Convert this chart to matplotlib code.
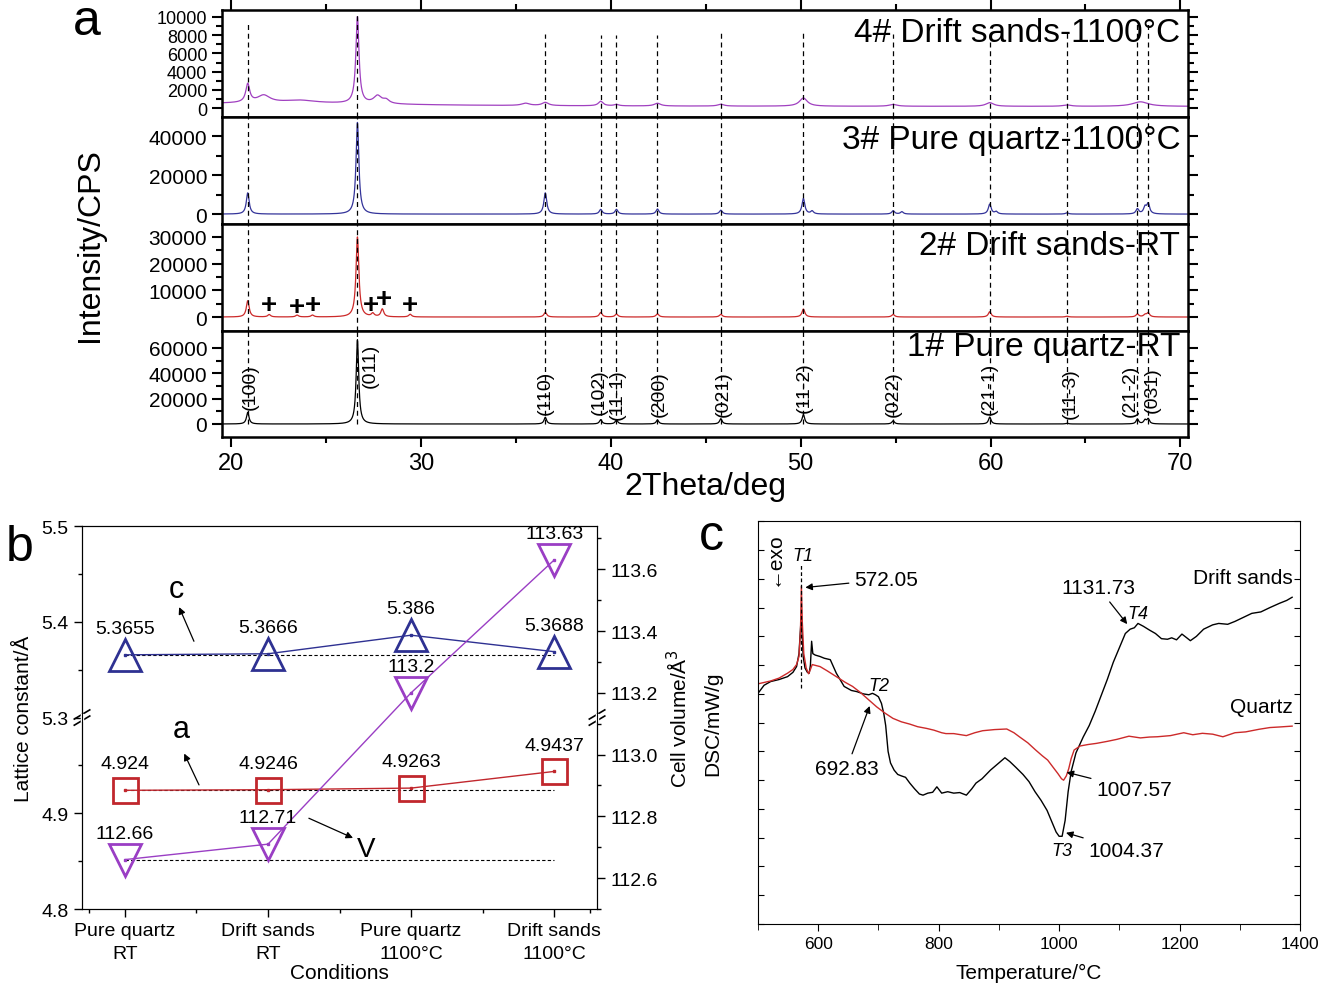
import numpy as np
import matplotlib.pyplot as plt
from matplotlib.ticker import MultipleLocator, FixedLocator

plt.rcParams['font.family'] = ['Liberation Sans', 'DejaVu Sans']

# ---------------- panel a: XRD patterns ----------------
ref_pos = [20.86, 26.64, 36.54, 39.46, 40.29, 42.45, 45.79, 50.14, 54.87, 59.96, 64.03, 67.74, 68.31]
hkl_labels = ['(100)', '(011)', '(110)', '(102)', '(11-1)', '(200)', '(021)', '(11-2)',
              '(022)', '(21-1)', '(11-3)', '(21-2)', '(031)']
hkl_y = [11800, 29200, 7900, 7900, 3900, 6300, 6300, 9500, 6300, 7900, 4700, 6300, 9500]
hkl_dx = [0.15, 0.65, 0.0, -0.1, 0.05, 0.1, 0.15, 0.05, 0.0, 0.0, 0.15, -0.35, 0.2]
ref_top = [9300, 10200, 8100, 8000, 8000, 8000, 8200, 8300, 8100, 8100, 8200, 9300, 9300]

# 1# pure quartz RT
s1_pos = [20.86, 26.64, 36.54, 39.46, 40.29, 42.45, 45.79, 50.14, 54.87, 59.96, 64.03, 67.74, 68.14, 68.31]
s1_h = [9200, 66500, 5300, 3400, 3200, 3200, 4200, 7400, 2600, 5500, 600, 3900, 3000, 3900]
# 2# drift sands RT
s2_pos = [20.86, 21.99, 23.46, 24.27, 26.64, 27.45, 27.95, 29.42, 36.54, 39.46, 40.29, 42.45,
          45.79, 50.14, 54.87, 59.96, 64.03, 67.74, 68.14, 68.31]
s2_h = [6100, 900, 700, 700, 30000, 1200, 2900, 1000, 1700, 1700, 1100, 1200,
        1000, 3000, 1000, 2000, 300, 1100, 800, 1500]
plus_pos = [21.99, 23.46, 24.27, 27.35, 28.02, 29.42]
plus_y = [4600, 3700, 4600, 4600, 6800, 4600]
# 3# pure quartz 1100C
s3_pos = [20.86, 26.64, 36.54, 39.46, 40.29, 42.45, 45.79, 50.14, 50.6, 54.87, 55.33, 59.96,
          60.3, 64.03, 67.74, 68.14, 68.31]
s3_h = [10900, 47000, 10900, 2400, 2400, 2600, 2000, 8000, 1500, 1700, 1200, 5100,
        1200, 700, 2600, 3400, 5100]
# 4# drift sands 1100C (broad humps included)
s4_pos = [22.0, 20.86, 21.7, 23.6, 26.64, 27.7, 28.15, 35.5, 36.54, 39.46, 40.29, 42.45,
          45.79, 50.14, 54.87, 59.96, 64.03, 67.9]
s4_h = [380, 2000, 800, 300, 9500, 850, 400, 250, 350, 500, 150, 300, 200, 900, 200, 400, 150, 500]
s4_w = [16.0, 0.25, 0.8, 2.0, 0.2, 0.5, 0.4, 0.5, 0.4, 0.3, 0.3, 0.4, 0.4, 0.5, 0.5, 0.5, 0.5, 1.0]
s4_base = 170

sample_names = ['4# Drift sands-1100°C', '3# Pure quartz-1100°C', '2# Drift sands-RT', '1# Pure quartz-RT']
sample_colors = ['#a040c0', '#34349a', '#cc2a2a', 'black']
label_y = [0.79, 0.79, 0.80, 0.85]

# ---------------- panel b: lattice constants ----------------
conditions = ['Pure quartz\nRT', 'Drift sands\nRT', 'Pure quartz\n1100°C', 'Drift sands\n1100°C']
c_vals = [5.3655, 5.3666, 5.386, 5.3688]
a_vals = [4.924, 4.9246, 4.9263, 4.9437]
v_vals = [112.66, 112.71, 113.2, 113.63]

# ---------------- panel c: DSC ----------------
drift_T = [500, 510, 521, 535, 549, 558, 564, 568, 571.5, 573, 575, 578, 582, 585, 587, 589, 591,
           595, 603, 610, 620, 630, 643, 655, 664, 675, 684, 690, 695, 700, 705, 709, 712, 716,
           720, 726, 732, 738, 745, 752, 760, 768, 774, 782, 790, 797, 805, 815, 825, 835, 846,
           855, 862, 872, 886, 900, 910, 918, 928, 940, 950, 960, 970, 980, 988, 995, 1000, 1005,
           1010, 1015, 1020, 1028, 1040, 1050, 1060, 1070, 1080, 1090, 1100, 1110, 1118, 1125,
           1131, 1140, 1150, 1160, 1170, 1180, 1187, 1195, 1204, 1212, 1218, 1228, 1240, 1255,
           1265, 1280, 1292, 1305, 1320, 1335, 1350, 1366, 1378, 1387]
drift_dsc = [8.02, 8.3, 8.43, 8.5, 8.6, 8.75, 8.95, 9.4, 10.6, 10.2, 9.3, 8.9, 8.75, 8.72, 9.0, 9.83,
             9.4, 9.35, 9.3, 9.24, 9.19, 8.72, 8.26, 8.12, 8.08, 8.0, 7.97, 8.02, 7.97, 7.9, 7.67,
             7.3, 6.9, 6.0, 5.6, 5.35, 5.2, 5.15, 5.1, 4.9, 4.7, 4.52, 4.48, 4.55, 4.58, 4.77, 4.55,
             4.6, 4.55, 4.57, 4.48, 4.7, 4.9, 5.05, 5.35, 5.6, 5.78, 5.65, 5.45, 5.2, 4.95, 4.6,
             4.3, 3.95, 3.55, 3.2, 3.05, 3.05, 3.6, 4.6, 5.3, 5.95, 6.5, 6.9, 7.4, 7.95, 8.5, 9.1,
             9.6, 10.1, 10.25, 10.3, 10.45, 10.35, 10.22, 10.1, 9.92, 9.9, 9.95, 9.88, 10.08, 9.95,
             9.85, 10.0, 10.25, 10.4, 10.45, 10.42, 10.52, 10.65, 10.8, 10.85, 11.0, 11.15, 11.25,
             11.36]
quartz_T = [500, 521, 535, 549, 558, 564, 568, 570.5, 572, 573.5, 576, 580, 584, 587, 590, 603,
            615, 630, 645, 657, 670, 684, 697, 711, 724, 738, 752, 765, 780, 792, 805, 812, 825,
            846, 860, 873, 893, 913, 925, 934, 948, 961, 972, 981, 990, 998, 1004, 1007.5, 1012,
            1016, 1020, 1025, 1035, 1048, 1062, 1080, 1096, 1116, 1135, 1150, 1163, 1185, 1207,
            1222, 1238, 1255, 1272, 1292, 1310, 1332, 1350, 1366, 1387]
quartz_dsc = [8.35, 8.45, 8.55, 8.72, 8.85, 9.02, 9.3, 10.2, 11.74, 10.5, 9.4, 8.9, 8.7, 8.85,
              9.02, 8.95, 8.8, 8.6, 8.4, 8.26, 8.05, 7.79, 7.55, 7.33, 7.15, 7.03, 6.95, 6.86,
              6.8, 6.74, 6.65, 6.62, 6.62, 6.55, 6.65, 6.72, 6.76, 6.78, 6.65, 6.51, 6.3, 6.05,
              5.85, 5.7, 5.45, 5.23, 5.05, 5.0, 5.15, 5.4, 5.75, 6.05, 6.19, 6.24, 6.28, 6.35,
              6.42, 6.53, 6.47, 6.5, 6.51, 6.55, 6.65, 6.58, 6.63, 6.6, 6.51, 6.65, 6.68, 6.77,
              6.83, 6.85, 6.88]


def pattern(x, pos, h, w, base=0.0):
    y = np.full_like(x, base, dtype=float)
    for p, hh, ww in zip(pos, h, w):
        y += hh / (1 + ((x - p) / (ww / 2)) ** 2)
    return y


fig = plt.figure(figsize=(13.25, 9.87), dpi=100)

# panel a axes (top to bottom)
left, width = 0.1675, 0.729
bottoms = [0.8804, 0.7720, 0.6636, 0.5562]
heights = [0.1084, 0.1084, 0.1084, 0.1074]
ylims = [(-990, 10760), (-5100, 49770), (-5250, 34850), (-10290, 73390)]
majors = [2000, 20000, 10000, 20000]
minors = [1000, 10000, 5000, 10000]
ytops = [10000, 40000, 30000, 60000]

x = np.arange(19.5, 70.4, 0.01)
curves = [
    pattern(x, s4_pos, s4_h, s4_w, s4_base),
    pattern(x, s3_pos, s3_h, [0.18] * len(s3_pos)),
    pattern(x, s2_pos, s2_h, [0.18] * len(s2_pos)),
    pattern(x, s1_pos, s1_h, [0.16] * len(s1_pos)),
]

axs = []
for i in range(4):
    ax = fig.add_axes([left, bottoms[i], width, heights[i]])
    axs.append(ax)
    ax.plot(x, curves[i], color=sample_colors[i], lw=0.9)
    ax.set_xlim(19.5, 70.4)
    ax.set_ylim(*ylims[i])
    ax.yaxis.set_major_locator(FixedLocator(np.arange(0, ytops[i] + 1, majors[i])))
    ax.yaxis.set_minor_locator(FixedLocator(np.arange(0, ytops[i] + 1, minors[i])))
    ax.xaxis.set_major_locator(MultipleLocator(10))
    ax.xaxis.set_minor_locator(MultipleLocator(5))
    ax.tick_params(axis='y', which='both', direction='out', right=True, width=1.5,
                   labelsize=(13 if i == 0 else 15))
    ax.tick_params(axis='y', which='major', length=7)
    ax.tick_params(axis='y', which='minor', length=4)
    ax.tick_params(axis='x', which='both', direction='out', width=1.5, labelsize=17,
                   bottom=(i == 3), labelbottom=(i == 3), top=(i == 0))
    ax.tick_params(axis='x', which='major', length=7)
    ax.tick_params(axis='x', which='minor', length=4)
    for s in ax.spines.values():
        s.set_linewidth(1.8)
    ax.text(0.992, label_y[i], sample_names[i], transform=ax.transAxes, ha='right',
            va='center', fontsize=24)
    # dashed reference lines
    if i == 0:
        ax.vlines(ref_pos, ylims[i][0], ref_top, colors='black', linestyles=(0, (4, 3)), lw=0.9)
    elif i == 3:
        ax.vlines(ref_pos, 0, ylims[i][1], colors='black', linestyles=(0, (4, 3)), lw=0.9)
    else:
        ax.vlines(ref_pos, ylims[i][0], ylims[i][1], colors='black', linestyles=(0, (4, 3)), lw=0.9)

for p, yy in zip(plus_pos, plus_y):
    axs[2].text(p, yy, '+', ha='center', va='center', fontsize=20, fontweight='bold')

for p, lab, yy, dx in zip(ref_pos, hkl_labels, hkl_y, hkl_dx):
    axs[3].text(p + dx, yy, lab, rotation=90, ha='center', va='bottom', fontsize=14)

fig.text(0.068, 0.752, 'Intensity/CPS', rotation=90, ha='center', va='center', fontsize=23)
fig.text(0.532, 0.507, '2Theta/deg', ha='center', va='center', fontsize=23)
fig.text(0.0657, 0.978, 'a', ha='center', va='center', fontsize=36)

# panel b
axb = fig.add_axes([0.0619, 0.0780, 0.3887, 0.388])
axv = axb.twinx()


def brk(v):
    return v - 0.3 if v > 5.1 else v


c_plot = [brk(v) for v in c_vals]
a_plot = [brk(v) for v in a_vals]
xc = np.arange(len(conditions))

axb.plot([0, 3], [c_plot[0], c_plot[0]], color='black', ls=(0, (3, 2)), lw=0.8)
axb.plot([0, 3], [a_plot[0], a_plot[0]], color='black', ls=(0, (3, 2)), lw=0.8)
axv.plot([0, 3], [v_vals[0], v_vals[0]], color='black', ls=(0, (3, 2)), lw=0.8)

blue, red, purple = '#2e3192', '#c1272d', '#9a3ec4'
axb.plot(xc, c_plot, color=blue, lw=1, marker='^', ms=23, mfc='none', mew=2)
axb.plot(xc, c_plot, ls='none', marker='s', ms=2, color=blue)
axb.plot(xc, a_plot, color=red, lw=1, marker='s', ms=18, mfc='none', mew=2)
axb.plot(xc, a_plot, ls='none', marker='s', ms=2, color=red)
axv.plot(xc, v_vals, color=purple, lw=1, marker='v', ms=23, mfc='none', mew=2)
axv.plot(xc, v_vals, ls='none', marker='s', ms=2, color=purple)

for xi, yp, v in zip(xc, c_plot, c_vals):
    axb.annotate(f'{v:g}', (xi, yp), xytext=(0, 19), textcoords='offset points',
                 ha='center', va='center', fontsize=14)
for xi, yp, v in zip(xc, a_plot, a_vals):
    axb.annotate(f'{v:g}', (xi, yp), xytext=(0, 19), textcoords='offset points',
                 ha='center', va='center', fontsize=14)
for xi, v in zip(xc, v_vals):
    axv.annotate(f'{v:g}', (xi, v), xytext=(0, 19), textcoords='offset points',
                 ha='center', va='center', fontsize=14)

axb.text(0.358, 5.134, 'c', fontsize=22, ha='center', va='center')
axb.annotate('', xy=(0.371, 5.118), xytext=(0.49, 5.077),
             arrowprops=dict(arrowstyle='-|>', color='black', lw=0.9, mutation_scale=10))
axb.text(0.392, 4.988, 'a', fontsize=22, ha='center', va='center')
axb.annotate('', xy=(0.406, 4.965), xytext=(0.526, 4.927),
             arrowprops=dict(arrowstyle='-|>', color='black', lw=0.9, mutation_scale=10))
axb.text(1.689, 4.863, 'V', fontsize=20, ha='center', va='center')
axb.annotate('', xy=(1.612, 4.873), xytext=(1.268, 4.896),
             arrowprops=dict(arrowstyle='-|>', color='black', lw=0.9, mutation_scale=10))

axb.set_xlim(-0.3, 3.3)
axb.set_ylim(4.8, 5.2)
axb.set_yticks([4.8, 4.9, 5.0, 5.1, 5.2])
axb.set_yticklabels(['4.8', '4.9', '5.3', '5.4', '5.5'])
axb.yaxis.set_minor_locator(FixedLocator([4.85, 4.95, 5.05, 5.15]))
axb.set_xticks(xc)
axb.set_xticklabels(conditions, linespacing=1.45)
axb.xaxis.set_minor_locator(FixedLocator([-0.25, 0.5, 1.5, 2.5, 3.25]))
axv.set_ylim(112.5, 113.74)
axv.set_yticks(np.round(np.arange(112.6, 113.61, 0.2), 1))
axv.set_yticklabels(['112.6', '112.8', '113.0', '113.2', '113.4', '113.6'])
axv.yaxis.set_minor_locator(MultipleLocator(0.1))
for a_ in (axb, axv):
    a_.tick_params(which='both', direction='out', labelsize=14, width=1)
    a_.tick_params(which='major', length=6)
    a_.tick_params(which='minor', length=3)
axb.set_ylabel('Lattice constant/Å', fontsize=15, labelpad=6)
axv.set_ylabel('Cell volume/Å$^3$', fontsize=15, labelpad=6)
axb.set_xlabel('Conditions', fontsize=15, labelpad=1)

# axis break marks
for xf in (0.0, 1.0):
    for dy in (-0.008, 0.008):
        axb.plot([xf - 0.015, xf + 0.015], [0.5 + dy - 0.012, 0.5 + dy + 0.012],
                 transform=axb.transAxes, color='black', lw=1.2, clip_on=False)
    axb.plot([xf, xf], [0.493, 0.507], transform=axb.transAxes, color='white', lw=2.5,
             clip_on=False, zorder=5)

fig.text(0.015, 0.445, 'b', ha='center', va='center', fontsize=36)

# panel c
axc = fig.add_axes([0.5721, 0.0628, 0.409, 0.408])
axc.plot(drift_T, drift_dsc, color='black', lw=1)
axc.plot(quartz_T, quartz_dsc, color='#cc2a2a', lw=1)
axc.set_xlim(500, 1400)
axc.set_ylim(0, 14)
axc.xaxis.set_major_locator(MultipleLocator(200))
axc.xaxis.set_minor_locator(MultipleLocator(100))
axc.yaxis.set_major_locator(MultipleLocator(1))
axc.tick_params(axis='y', which='both', direction='in', left=True, right=True, labelleft=False,
                length=4)
axc.tick_params(axis='x', which='both', direction='out', labelsize=12.5)
axc.tick_params(axis='x', which='major', length=5)
axc.tick_params(axis='x', which='minor', length=4)
axc.set_xlabel('Temperature/°C', fontsize=15, labelpad=9)
axc.set_ylabel('DSC/mW/g', fontsize=15, labelpad=26)

axc.plot([572, 572], [8.2, 12.56], color='black', ls=(0, (3, 2)), lw=0.9)
axc.text(575, 12.8, 'T1', style='italic', fontsize=13, ha='center', va='center')
axc.text(525, 12.75, '←exo', rotation=90, fontsize=15, ha='center', va='center')
arrow = dict(arrowstyle='-|>', color='black', lw=0.9, mutation_scale=10)
axc.annotate('572.05', xy=(574, 11.69), xytext=(660, 11.98), fontsize=15, va='center',
             arrowprops=arrow)
axc.annotate('1131.73', xy=(1116, 10.35), xytext=(1065, 11.7), fontsize=15, ha='center',
             va='center', arrowprops=arrow)
axc.text(1130, 10.8, 'T4', style='italic', fontsize=13, ha='center', va='center')
axc.text(1388, 12.05, 'Drift sands', fontsize=15, ha='right', va='center')
axc.text(1388, 7.55, 'Quartz', fontsize=15, ha='right', va='center')
axc.text(700, 8.3, 'T2', style='italic', fontsize=13, ha='center', va='center')
axc.annotate('692.83', xy=(687, 7.67), xytext=(647, 5.4), fontsize=15, ha='center',
             va='center', arrowprops=arrow)
axc.annotate('1007.57', xy=(1008, 5.3), xytext=(1062, 4.68), fontsize=15, ha='left',
             va='center', arrowprops=arrow)
axc.annotate('1004.37', xy=(1007, 3.2), xytext=(1049, 2.55), fontsize=15, ha='left',
             va='center', arrowprops=arrow)
axc.text(1005, 2.56, 'T3', style='italic', fontsize=13, ha='center', va='center')

fig.text(0.537, 0.456, 'c', ha='center', va='center', fontsize=36)

fig.savefig('out.png', dpi=100)
